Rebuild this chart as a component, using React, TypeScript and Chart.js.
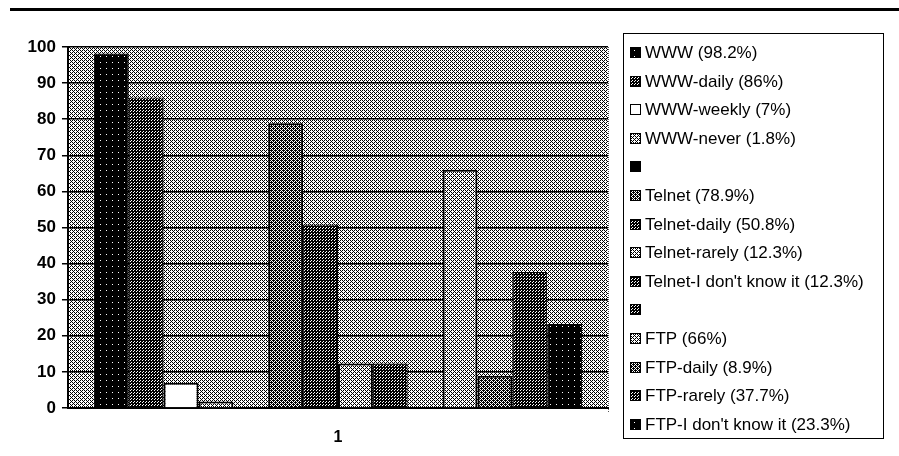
import React, { useEffect, useRef } from "react";
import { Chart, registerables } from "chart.js";

Chart.register(...registerables);

const categories = ["1"];
const seriesLabels = [
  "WWW (98.2%)",
  "WWW-daily (86%)",
  "WWW-weekly (7%)",
  "WWW-never (1.8%)",
  "",
  "Telnet (78.9%)",
  "Telnet-daily (50.8%)",
  "Telnet-rarely (12.3%)",
  "Telnet-I don't know it (12.3%)",
  "",
  "FTP (66%)",
  "FTP-daily (8.9%)",
  "FTP-rarely (37.7%)",
  "FTP-I don't know it (23.3%)",
];
const seriesValues: (number | null)[] = [
  98.2, 86, 7, 1.8, null, 78.9, 50.8, 12.3, 12.3, null, 66, 8.9, 37.7, 23.3,
];
const yMin = 0;
const yMax = 100;
const yStep = 10;

const seriesFills = [
  "blackDots", "dark", "white", "light", "black",
  "medium", "dark", "light", "dark", "dark",
  "light", "medium", "dark", "blackDots",
];

const tiles: Record<string, string[]> = {
  bg: ["1010", "0001", "1010", "0100"],
  light: ["0101", "1000", "0101", "0010"],
  medium: ["1110", "0101", "1011", "0101"],
  dark: ["101", "111", "110"],
  blackDots: ["111111", "111111", "111101", "111111", "111111", "111111"],
  black: ["1"],
  white: ["0"],
};

function makePattern(ctx: CanvasRenderingContext2D, rows: string[]) {
  const h = rows.length;
  const w = rows[0].length;
  const c = document.createElement("canvas");
  c.width = w;
  c.height = h;
  const g = c.getContext("2d")!;
  g.fillStyle = "#ffffff";
  g.fillRect(0, 0, w, h);
  g.fillStyle = "#000000";
  for (let y = 0; y < h; y++)
    for (let x = 0; x < w; x++) if (rows[y][x] === "1") g.fillRect(x, y, 1, 1);
  return ctx.createPattern(c, "repeat")!;
}

const FONT = '"Liberation Sans", Arial, sans-serif';

export default function App() {
  const ref = useRef<HTMLCanvasElement>(null);
  useEffect(() => {
    document.body.style.margin = "0";
    const canvas = ref.current!;
    const ctx = canvas.getContext("2d")!;
    const pats: Record<string, CanvasPattern> = {};
    Object.keys(tiles).forEach((k) => (pats[k] = makePattern(ctx, tiles[k])));

    const bgPlugin = {
      id: "plotBg",
      beforeDraw(chart: any) {
        const { ctx: c, chartArea: a } = chart;
        c.save();
        c.fillStyle = pats.bg;
        c.fillRect(a.left, a.top, a.right - a.left, a.bottom - a.top);
        c.strokeStyle = "#555";
        c.lineWidth = 1;
        c.setLineDash([1, 1]);
        c.beginPath();
        c.moveTo(a.right + 0.5, a.top);
        c.lineTo(a.right + 0.5, a.bottom + 5);
        c.stroke();
        c.restore();
      },
      afterDraw(chart: any) {
        const c: CanvasRenderingContext2D = chart.ctx;
        c.save();
        c.fillStyle = "#000";
        c.fillRect(10, 8, 889, 3);
        const lx = 623, ly = 33, lw = 260, lh = 405;
        c.strokeStyle = "#000";
        c.lineWidth = 1;
        c.strokeRect(lx + 0.5, ly + 0.5, lw, lh);
        c.font = "17px " + FONT;
        c.textBaseline = "middle";
        c.textAlign = "left";
        chart.data.datasets.forEach((ds: any, i: number) => {
          const y = 52.5 + i * 28.6;
          c.fillStyle = ds.backgroundColor;
          c.fillRect(630, Math.round(y - 5.5), 11, 11);
          c.strokeRect(630.5, Math.round(y - 5.5) + 0.5, 10, 10);
          c.fillStyle = "#000";
          c.fillText(ds.label, 645, y + 1);
        });
        c.restore();
      },
    };

    const chart = new Chart(ctx, {
      type: "bar",
      data: {
        labels: categories,
        datasets: seriesLabels.map((label, i) => ({
          label,
          data: [seriesValues[i]],
          backgroundColor: pats[seriesFills[i]],
          borderColor: "#000",
          borderWidth: seriesFills[i] === "white" || seriesFills[i] === "light" || seriesFills[i] === "medium" ? 2 : 1,
          borderSkipped: "bottom",
          categoryPercentage: 0.904,
          barPercentage: 1,
        })),
      },
      options: {
        animation: false,
        responsive: true,
        maintainAspectRatio: false,
        layout: { padding: { left: 21.6, right: 291, top: 47, bottom: 0 } },
        plugins: {
          legend: { display: false },
          tooltip: { enabled: false },
          title: { display: false },
        },
        scales: {
          x: {
            grid: { display: false },
            border: { display: true, color: "#000", width: 2 },
            ticks: {
              color: "#000",
              padding: 12,
              font: { family: FONT, size: 16, weight: "bold" },
            },
            afterFit: (scale: any) => {
              scale.height = 48;
            },
          },
          y: {
            min: yMin,
            max: yMax,
            ticks: {
              stepSize: yStep,
              color: "#000",
              padding: 6,
              font: { family: FONT, size: 17, weight: "bold" },
            },
            grid: { color: "#000", lineWidth: 1.5, tickLength: 6 },
            border: { display: true, color: "#000", width: 2 },
          },
        },
      },
      plugins: [bgPlugin],
    });
    return () => chart.destroy();
  }, []);
  return (
    <div style={{ width: 899, height: 456, position: "relative" }}>
      <canvas ref={ref} />
    </div>
  );
}
